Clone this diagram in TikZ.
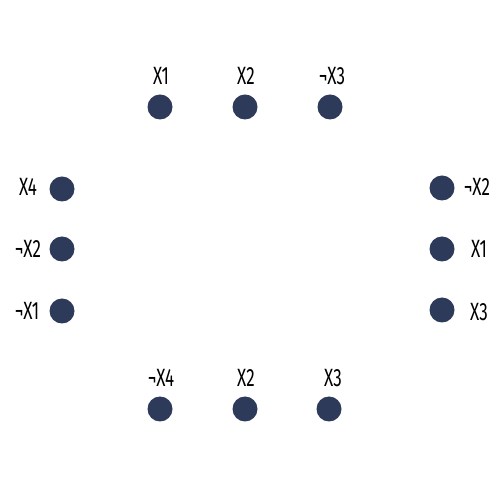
\documentclass[tikz,border=0pt]{standalone}
\usepackage{fontspec}
\setmainfont{Fira Sans}
\definecolor{dotc}{HTML}{2E3A59}
\begin{document}
\begin{tikzpicture}[x=1pt,y=1pt,
  dot/.style={circle,fill=dotc,minimum size=25pt,inner sep=0pt},
  lab/.style={font=\fontsize{25}{25}\selectfont,xscale=0.68,text=black,inner sep=0pt}]
\useasboundingbox (0,0) rectangle (500,500);
% top
\node[dot] (t1) at (160,393) {};
\node[dot] (t2) at (245,393) {};
\node[dot] (t3) at (330,393) {};
\node[lab] (lt1) at (161,424) {X1};
\node[lab] (lt2) at (246,424) {X2};
\node[lab] (lt3) at (332,424) {¬X3};
% left
\node[dot] (l1) at (62,311) {};
\node[dot] (l2) at (62,251) {};
\node[dot] (l3) at (62,189) {};
\node[lab] (ll1) at (28,313) {X4};
\node[lab] (ll2) at (28,251) {¬X2};
\node[lab] (ll3) at (27,189) {¬X1};
% right
\node[dot] (r1) at (442,312) {};
\node[dot] (r2) at (442,251) {};
\node[dot] (r3) at (442,190) {};
\node[lab] (lr1) at (477,313) {¬X2};
\node[lab] (lr2) at (479,251) {X1};
\node[lab] (lr3) at (479,188) {X3};
% bottom
\node[dot] (b1) at (160,91) {};
\node[dot] (b2) at (245,91) {};
\node[dot] (b3) at (329,91) {};
\node[lab] (lb1) at (161,122) {¬X4};
\node[lab] (lb2) at (246,122) {X2};
\node[lab] (lb3) at (333,122) {X3};
\end{tikzpicture}
\end{document}
